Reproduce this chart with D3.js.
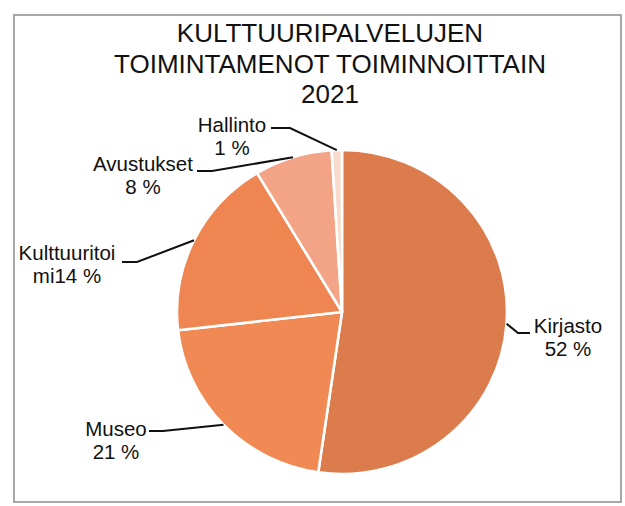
<!DOCTYPE html>
<html>
<head>
<meta charset="utf-8">
<script src="https://cdn.jsdelivr.net/npm/d3@7"></script>
<style>
  html, body { margin: 0; padding: 0; background: #fff; }
  svg { display: block; }
</style>
</head>
<body>
<div id="chart"></div>
<script>
// Data
const titleLines = ["KULTTUURIPALVELUJEN", "TOIMINTAMENOT TOIMINNOITTAIN", "2021"];
const categories = ["Kirjasto", "Museo", "Kulttuuritoimi", "Avustukset", "Hallinto"];
// slice shares as drawn (the printed labels are kept as text below)
const shares = [52.3, 20.9, 18.2, 7.6, 1.0];
const labelLines = [
  ["Kirjasto", "52 %"],
  ["Museo", "21 %"],
  ["Kulttuuritoi", "mi14 %"],
  ["Avustukset", "8 %"],
  ["Hallinto", "1 %"]
];

// Chart dimensions
const width = 625;
const height = 506;
const cx = 342, cy = 312;
const radius = 165;
const squash = 0.982; // scanned pie is a touch flatter than round

const colors = ["#dc7b4b", "#f08953", "#ef8651", "#f3a487", "#f7dccb"];

// label placement: text centre x, first baseline, leader elbow and end
const labelLayout = [
  { x: 568, y: 333, elbow: [518, 333], end: [530, 333] },
  { x: 116, y: 436, elbow: [163, 431], end: [149, 431] },
  { x: 67,  y: 260, elbow: [137, 262], end: [122, 262] },
  { x: 143, y: 171, elbow: [212, 171], end: [197, 171] },
  { x: 232, y: 132, elbow: [290, 128], end: [271, 128] }
];

const svg = d3.select("#chart").append("svg")
  .attr("width", width)
  .attr("height", height)
  .style("font-family", "'Liberation Sans', Arial, sans-serif");

svg.append("rect")
  .attr("width", width).attr("height", height)
  .attr("fill", "#fff");

// frame of the scanned chart area
svg.append("rect")
  .attr("x", 14).attr("y", 15)
  .attr("width", 607).attr("height", 487)
  .attr("fill", "none")
  .attr("stroke", "#8c8c8c")
  .attr("stroke-width", 1.5);

// Title
svg.append("g")
  .selectAll("text")
  .data(titleLines)
  .join("text")
    .attr("x", 330)
    .attr("y", (d, i) => 42 + i * 30.5)
    .attr("text-anchor", "middle")
    .attr("font-size", 26)
    .attr("fill", "#111")
    .text(d => d);

const pieData = d3.pie()
  .sort(null)
  .value(d => d.value)(categories.map((c, i) => ({ key: c, value: shares[i] })));

const arc = d3.arc().innerRadius(0).outerRadius(radius);
const edge = d3.arc().innerRadius(radius).outerRadius(radius);

const pieG = svg.append("g")
  .attr("transform", `translate(${cx},${cy}) scale(1,${squash})`);

pieG.selectAll("path")
  .data(pieData)
  .join("path")
    .attr("d", arc)
    .attr("fill", (d, i) => colors[i])
    .attr("stroke", "#fff")
    .attr("stroke-width", 2.6)
    .attr("stroke-linejoin", "round");

// Leader lines from arc midpoints on the rim
const leaders = svg.append("g");
pieData.forEach((d, i) => {
  const p = edge.centroid(d);
  const lay = labelLayout[i];
  leaders.append("polyline")
    .attr("points", [[cx + p[0], cy + p[1] * squash], lay.elbow, lay.end].map(q => q.join(",")).join(" "))
    .attr("fill", "none")
    .attr("stroke", "#111")
    .attr("stroke-width", 2);
});

// Labels
const labels = svg.append("g")
  .selectAll("text")
  .data(labelLines)
  .join("text")
    .attr("text-anchor", "middle")
    .attr("font-size", 20.5)
    .attr("fill", "#111");

labels.each(function(lines, i) {
  const lay = labelLayout[i];
  d3.select(this).selectAll("tspan")
    .data(lines)
    .join("tspan")
      .attr("x", lay.x)
      .attr("y", (d, j) => lay.y + j * 23)
      .text(d => d);
});
</script>
</body>
</html>
